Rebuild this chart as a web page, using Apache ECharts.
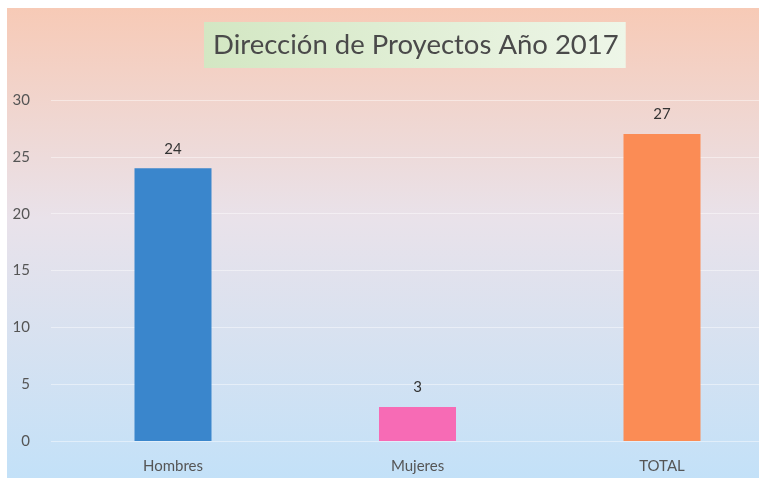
<!DOCTYPE html>
<html><head><meta charset="utf-8">
<script src="https://cdn.jsdelivr.net/npm/echarts@6/dist/echarts.min.js"></script>
<style>html,body{margin:0;padding:0;background:#fff}#c{width:759px;height:482px}</style>
</head><body><div id="c"></div>
<script>
const categories = ['Hombres', 'Mujeres', 'TOTAL'];
const values = [24, 3, 27];
const barColors = ['#3a86cc', '#f76bb5', '#fb8c55'];
const titleText = 'Dirección de Proyectos Año 2017';

const chart = echarts.init(document.getElementById('c'));
chart.setOption({
  animation: false,
  backgroundColor: '#ffffff',
  graphic: [{
    type: 'rect', z: -10, silent: true,
    shape: {x: 7, y: 8, width: 752, height: 470},
    style: {fill: new echarts.graphic.LinearGradient(0, 0, 0, 1, [
      {offset: 0, color: '#f7cab6'},
      {offset: 0.45, color: '#e9e2ea'},
      {offset: 1, color: '#c3e1f8'}
    ])}
  }],
  title: {
    text: titleText,
    left: 204,
    top: 22,
    padding: [9, 7, 9, 9],
    backgroundColor: new echarts.graphic.LinearGradient(0, 0, 1, 0, [
      {offset: 0, color: '#d3e7c3'},
      {offset: 1, color: '#eef6e8'}
    ]),
    textStyle: {fontFamily: 'Lato', fontSize: 27.5, fontWeight: 'normal', color: '#4a4a4a'}
  },
  grid: [
    {left: 173, top: 100, right: 97, height: 341, containLabel: false},
    {left: 51, top: 100, right: 0, height: 341, containLabel: false}
  ],
  xAxis: [{
    type: 'category',
    gridIndex: 0,
    data: categories,
    boundaryGap: false,
    axisLine: {show: false},
    axisTick: {show: false},
    splitLine: {show: false},
    axisLabel: {margin: 18, fontFamily: 'Lato', fontSize: 15, color: '#555'}
  }, {
    type: 'category',
    gridIndex: 1,
    data: categories,
    show: false
  }],
  yAxis: [{
    type: 'value',
    gridIndex: 0,
    min: 0, max: 30, interval: 5,
    show: false
  }, {
    type: 'value',
    gridIndex: 1,
    min: 0, max: 30, interval: 5,
    axisLine: {show: false},
    axisTick: {show: false},
    splitLine: {lineStyle: {color: 'rgba(255,255,255,0.45)', width: 1}},
    axisLabel: {margin: 21, fontFamily: 'Lato', fontSize: 15, color: '#555'}
  }],
  series: [{
    type: 'bar',
    xAxisIndex: 0, yAxisIndex: 0,
    data: values.map((v, i) => ({value: v, itemStyle: {color: barColors[i]}})),
    barWidth: 77,
    label: {show: true, position: 'top', distance: 12, fontFamily: 'Lato', fontSize: 15, color: '#333'}
  }]
});
</script></body></html>
